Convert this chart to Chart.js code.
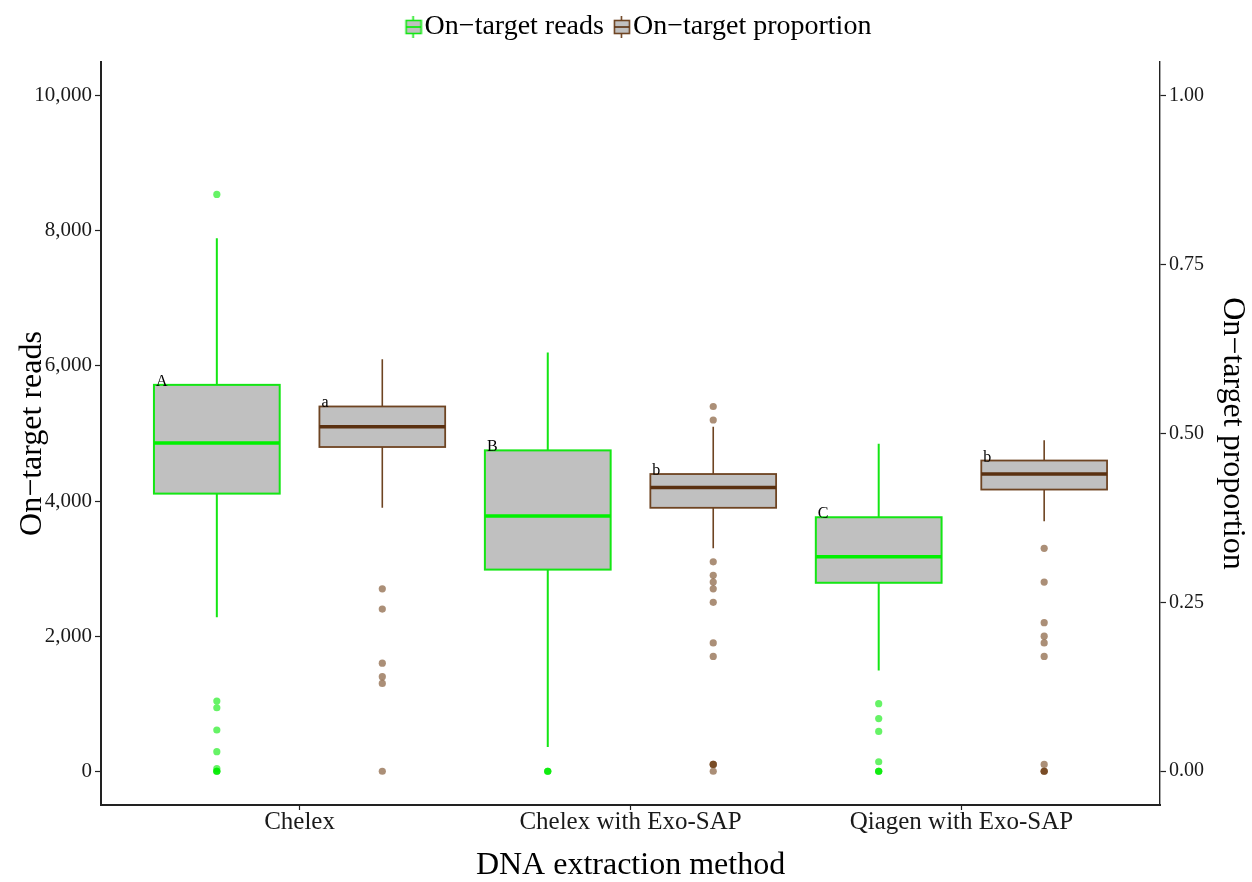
<!DOCTYPE html>
<html>
<head>
<meta charset="utf-8">
<title>On-target reads and proportion by DNA extraction method</title>
<script src="https://cdn.jsdelivr.net/npm/chart.js@4.4.1/dist/chart.umd.min.js"></script>
<style>
  html, body { margin: 0; padding: 0; background: #ffffff; }
  #wrap { width: 1252px; height: 882px; position: relative; }
</style>
</head>
<body>
<div id="wrap"><canvas id="chart"></canvas></div>
<script>
// ---- data -------------------------------------------------------------
const categories = ['Chelex', 'Chelex with Exo-SAP', 'Qiagen with Exo-SAP'];

// On-target reads (left axis): whisker ends, quartiles, median
const readsLow    = [2280, 360, 1490];
const readsQ1     = [4110, 2985, 2790];
const readsMedian = [4860, 3780, 3175];
const readsQ3     = [5720, 4750, 3760];
const readsHigh   = [7890, 6200, 4850];
const readsOutliers = [
  [8540, 1040, 940, 610, 290, 40, 0, 0, 0],
  [0, 0, 0],
  [1000, 780, 590, 140, 0, 0, 0]
];
const readsLetters = ['A', 'B', 'C'];

// On-target proportion (right axis)
const propLow    = [0.39, 0.33, 0.37];
const propQ1     = [0.48, 0.39, 0.417];
const propMedian = [0.51, 0.42, 0.44];
const propQ3     = [0.54, 0.44, 0.46];
const propHigh   = [0.61, 0.51, 0.49];
const propOutliers = [
  [0.27, 0.24, 0.16, 0.14, 0.13, 0],
  [0.54, 0.52, 0.31, 0.29, 0.28, 0.27, 0.25, 0.19, 0.17, 0.01, 0.01, 0.01, 0],
  [0.33, 0.28, 0.22, 0.20, 0.19, 0.17, 0.01, 0, 0, 0]
];
const propLetters = ['a', 'b', 'b'];

// tick values
const readsTicks = [0, 2000, 4000, 6000, 8000, 10000];
const propTicks  = [0, 0.25, 0.5, 0.75, 1];

// ---- styling ----------------------------------------------------------
const FONT = "'Liberation Serif', 'Times New Roman', serif";
const BOX_FILL = '#c0c0c0';
const BOX_HALF = 0.19;      // half box width in category units
const DODGE = 0.25;         // offset of each series from the category centre
const LEFT_PAD = 28;        // outer left padding (keeps the legend row centred like the panel)

const series = [
  {
    label: 'On\u2212target reads', axis: 'yReads', offset: -DODGE,
    low: readsLow, q1: readsQ1, median: readsMedian, q3: readsQ3, high: readsHigh,
    outliers: readsOutliers, letters: readsLetters,
    stroke: '#14e614', medianColor: '#00f000', whiskerWidth: 2, boxWidth: 2, medianWidth: 3.5,
    point: 'rgba(0, 235, 0, 0.6)'
  },
  {
    label: 'On\u2212target proportion', axis: 'yProp', offset: DODGE,
    low: propLow, q1: propQ1, median: propMedian, q3: propQ3, high: propHigh,
    outliers: propOutliers, letters: propLetters,
    stroke: '#6e4422', medianColor: '#5a3010', whiskerWidth: 1.6, boxWidth: 1.8, medianWidth: 3.5,
    point: 'rgba(110, 62, 20, 0.58)'
  }
];

// small boxplot glyph used as the legend key (drawn right of the canvas centre)
function legendGlyph(stroke, median) {
  const c = document.createElement('canvas');
  c.width = 26; c.height = 22;
  const g = c.getContext('2d');
  const a = 9;
  g.strokeStyle = stroke;
  g.lineWidth = 1.6;
  g.beginPath(); g.moveTo(a + 7.5, 0); g.lineTo(a + 7.5, 22); g.stroke();
  g.fillStyle = BOX_FILL;
  g.fillRect(a + 0.5, 4.5, 15, 13);
  g.strokeRect(a + 0.5, 4.5, 15, 13);
  g.strokeStyle = median;
  g.lineWidth = 1.6;
  g.beginPath(); g.moveTo(a + 0.5, 11); g.lineTo(a + 15.5, 11); g.stroke();
  return c;
}

// draws boxes, whiskers, medians and group letters through the chart scales
const boxplotPlugin = {
  id: 'boxplotPlugin',
  beforeDatasetsDraw(chart) {
    const { ctx, scales } = chart;
    const xs = scales.x;
    const halfPx = xs.getPixelForValue(1 + BOX_HALF) - xs.getPixelForValue(1);
    ctx.save();
    series.forEach(s => {
      const ys = scales[s.axis];
      categories.forEach((cat, i) => {
        const xc = xs.getPixelForValue(i + 1 + s.offset);
        const yLow = ys.getPixelForValue(s.low[i]);
        const yQ1 = ys.getPixelForValue(s.q1[i]);
        const yMed = ys.getPixelForValue(s.median[i]);
        const yQ3 = ys.getPixelForValue(s.q3[i]);
        const yHigh = ys.getPixelForValue(s.high[i]);
        const xl = xc - halfPx, xr = xc + halfPx;

        // whiskers
        ctx.strokeStyle = s.stroke;
        ctx.lineWidth = s.whiskerWidth;
        ctx.beginPath();
        ctx.moveTo(xc, yHigh); ctx.lineTo(xc, yQ3);
        ctx.moveTo(xc, yQ1); ctx.lineTo(xc, yLow);
        ctx.stroke();

        // box
        ctx.fillStyle = BOX_FILL;
        ctx.fillRect(xl, yQ3, xr - xl, yQ1 - yQ3);
        ctx.lineWidth = s.boxWidth;
        ctx.strokeRect(xl, yQ3, xr - xl, yQ1 - yQ3);

        // median
        ctx.strokeStyle = s.medianColor;
        ctx.lineWidth = s.medianWidth;
        ctx.beginPath();
        ctx.moveTo(xl, yMed); ctx.lineTo(xr, yMed);
        ctx.stroke();

        // significance letter at the upper-left corner of the box
        ctx.fillStyle = '#000000';
        ctx.font = '16px ' + FONT;
        ctx.textAlign = 'left';
        ctx.textBaseline = 'alphabetic';
        ctx.fillText(s.letters[i], xl + 2, yQ3 + 1);
      });
    });
    ctx.restore();
  }
};

// outlier points as scatter datasets
const datasets = series.map(s => ({
  type: 'scatter',
  label: s.label,
  yAxisID: s.axis,
  data: s.outliers.flatMap((vals, i) => vals.map(v => ({ x: i + 1 + s.offset, y: v }))),
  pointRadius: 3.6,
  pointHoverRadius: 3.6,
  pointBorderWidth: 0,
  pointBackgroundColor: s.point,
  pointBorderColor: s.point
}));

const axisColor = '#222222';

new Chart(document.getElementById('chart'), {
  type: 'scatter',
  data: { datasets },
  options: {
    responsive: true,
    maintainAspectRatio: false,
    animation: false,
    devicePixelRatio: 1,
    layout: { padding: { left: LEFT_PAD, right: 0, top: 0, bottom: 0 } },
    events: [],
    plugins: {
      tooltip: { enabled: false },
      legend: {
        position: 'top',
        align: 'center',
        onClick: null,
        labels: {
          usePointStyle: true,
          pointStyleWidth: 2,
          padding: 13,
          color: '#000000',
          font: { family: FONT, size: 28, lineHeight: 1 },
          generateLabels: () => series.map((s, i) => ({
            text: s.label,
            pointStyle: legendGlyph(s.stroke, s.medianColor),
            fillStyle: BOX_FILL,
            strokeStyle: s.stroke,
            lineWidth: 0,
            hidden: false,
            datasetIndex: i,
            fontColor: '#000000'
          }))
        }
      },
      // spacer between the legend and the plotting panel
      subtitle: {
        display: true,
        text: '',
        position: 'top',
        weight: 500,
        padding: 0,
        font: { size: 11, lineHeight: 1 }
      }
    },
    scales: {
      x: {
        type: 'linear',
        min: 0.4,
        max: 3.6,
        afterBuildTicks: s => { s.ticks = categories.map((c, i) => ({ value: i + 1 })); },
        afterFit: s => { s.height = 77; },
        ticks: {
          autoSkip: false,
          maxRotation: 0,
          padding: 0,
          color: '#1a1a1a',
          font: { family: FONT, size: 25, lineHeight: 1 },
          callback: v => categories[Math.round(v) - 1]
        },
        grid: { display: true, drawOnChartArea: false, drawTicks: true, tickLength: 5, color: axisColor, tickWidth: 1.2 },
        border: { display: true, color: axisColor, width: 2 },
        title: {
          display: true,
          text: 'DNA extraction method',
          color: '#000000',
          font: { family: FONT, size: 32, lineHeight: 1 },
          padding: { top: 0, bottom: 0 }
        }
      },
      yReads: {
        type: 'linear',
        position: 'left',
        min: -500,
        max: 10500,
        afterBuildTicks: s => { s.ticks = readsTicks.map(v => ({ value: v })); },
        afterFit: s => { s.width = 101 - LEFT_PAD; },
        ticks: {
          padding: 3,
          color: '#1a1a1a',
          font: { family: FONT, size: 21, lineHeight: 1 },
          callback: v => v.toLocaleString('en-US')
        },
        grid: { display: true, drawOnChartArea: false, drawTicks: true, tickLength: 6, color: axisColor, tickWidth: 1.2 },
        border: { display: true, color: axisColor, width: 2 },
        title: {
          display: true,
          text: 'On\u2212target reads',
          color: '#000000',
          font: { family: FONT, size: 32, lineHeight: 1 },
          // title centre sits at x = 33, left of the outer padding edge
          padding: { top: 33 - LEFT_PAD - 16, bottom: 0 }
        }
      },
      yProp: {
        type: 'linear',
        position: 'right',
        min: -0.05,
        max: 1.05,
        afterBuildTicks: s => { s.ticks = propTicks.map(v => ({ value: v })); },
        afterFit: s => { s.width = 92; },
        ticks: {
          padding: 3,
          color: '#1a1a1a',
          font: { family: FONT, size: 20, lineHeight: 1 },
          callback: v => v.toFixed(2)
        },
        grid: { display: true, drawOnChartArea: false, drawTicks: true, tickLength: 6, color: axisColor, tickWidth: 1.2 },
        border: { display: true, color: axisColor, width: 1.4 },
        title: {
          display: true,
          text: 'On\u2212target proportion',
          color: '#000000',
          font: { family: FONT, size: 32, lineHeight: 1 },
          padding: { top: 4, bottom: 0 }
        }
      }
    }
  },
  plugins: [boxplotPlugin]
});
</script>
</body>
</html>
